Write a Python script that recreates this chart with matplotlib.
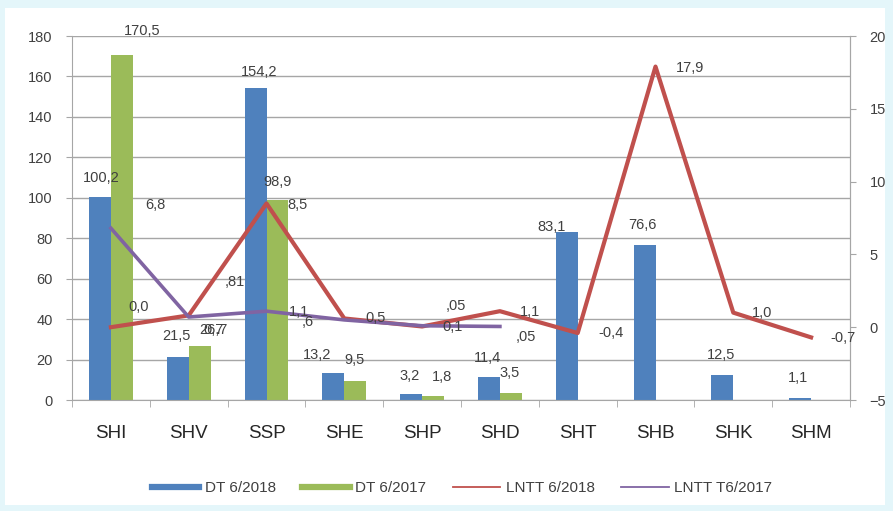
import numpy as np
import matplotlib
matplotlib.use("Agg")
from matplotlib import pyplot as plt
from matplotlib.lines import Line2D
from matplotlib.patches import Rectangle

plt.rcParams["font.family"] = ["Liberation Sans", "DejaVu Sans"]

categories = ["SHI", "SHV", "SSP", "SHE", "SHP", "SHD", "SHT", "SHB", "SHK", "SHM"]
dt_2018 = [100.2, 21.5, 154.2, 13.2, 3.2, 11.4, 83.1, 76.6, 12.5, 1.1]
dt_2017 = [170.5, 26.7, 98.9, 9.5, 1.8, 3.5]
lntt_2018 = [0.0, 0.81, 8.5, 0.6, 0.05, 1.1, -0.4, 17.9, 1.0, -0.7]
lntt_2017 = [6.8, 0.7, 1.1, 0.5, 0.1, 0.05]

lbl_dt_2018 = ["100,2", "21,5", "154,2", "13,2", "3,2", "11,4", "83,1", "76,6", "12,5", "1,1"]
lbl_dt_2017 = ["170,5", "26,7", "98,9", "9,5", "1,8", "3,5"]
lbl_lntt_2018 = ["0,0", ",81", "8,5", ",6", ",05", "1,1", "-0,4", "17,9", "1,0", "-0,7"]
lbl_lntt_2017 = ["6,8", "0,7", "1,1", "0,5", "0,1", ",05"]

blue = "#4f81bd"
green = "#9bbb59"
red = "#c0504d"
purple = "#8064a2"
txt = "#404040"
fs = 10.5

fig = plt.figure(figsize=(8.93, 5.11), dpi=100, facecolor="#e4f6fa")
bg = fig.add_axes([0.006, 0.012, 0.985, 0.972], zorder=-10)
bg.axis("off")
bg.add_patch(Rectangle((0, 0), 1, 1, transform=bg.transAxes, facecolor="white", edgecolor="none"))

ax = fig.add_axes([72 / 893, 1 - 400 / 511, 778 / 893, 364 / 511])
ax.set_facecolor("none")
x = np.arange(len(categories))
w = 0.282

ax.bar(x - w / 2, dt_2018, w, color=blue, zorder=2)
ax.bar(x[:len(dt_2017)] + w / 2, dt_2017, w, color=green, zorder=2)

ax.set_ylim(0, 180)
ax.set_yticks(range(0, 181, 20))
ax.set_xlim(-0.5, len(categories) - 0.5)
ax.grid(axis="y", color="#a6a6a6", lw=1, zorder=0)
ax.set_xticks(x)
ax.set_xticklabels(categories, fontsize=13.5, color="#262626")
ax.set_xticks(np.arange(-0.5, len(categories), 1), minor=True)
ax.tick_params(axis="x", which="major", length=0, pad=18)
ax.tick_params(axis="x", which="minor", length=5, color="#a6a6a6")
ax.tick_params(axis="y", length=4, color="#a6a6a6", labelsize=fs, labelcolor=txt, pad=10)
ax.spines["top"].set_visible(False)
for s in ["left", "right", "bottom"]:
    ax.spines[s].set_color("#a6a6a6")

# label offsets in pixels (dx, dy up)
b18_off = [(1, 19), (-1, 21), (4, 16), (-16, 18), (-2, 18), (-1, 19), (-15, 5), (-2, 20), (-1, 20), (-2, 20)]
for i, (v, l) in enumerate(zip(dt_2018, lbl_dt_2018)):
    ax.annotate(l, (x[i] - w / 2, v), xytext=b18_off[i], textcoords="offset pixels",
                ha="center", va="center", fontsize=fs, color=txt, zorder=5)
b17_off = [(20, 24), (14, 16), (0, 18), (-1, 21), (9, 19), (-1, 20)]
for i, (v, l) in enumerate(zip(dt_2017, lbl_dt_2017)):
    ax.annotate(l, (x[i] + w / 2, v), xytext=b17_off[i], textcoords="offset pixels",
                ha="center", va="center", fontsize=fs, color=txt, zorder=5)

ax2 = ax.twinx()
ax2.set_ylim(-5, 20)
ax2.set_yticks(range(-5, 21, 5))
ax2.tick_params(axis="y", length=4, color="#a6a6a6", labelsize=fs, labelcolor=txt, pad=10)
for s in ["top", "left", "bottom"]:
    ax2.spines[s].set_visible(False)
ax2.spines["right"].set_color("#a6a6a6")

ax2.plot(x, lntt_2018, color=red, lw=3.0, zorder=3)
ax2.plot(x[:len(lntt_2017)], lntt_2017, color=purple, lw=2.6, zorder=3)

r18_off = [(28, 20), (46, 33), (31, -2), (-37, -4), (34, 20), (30, -1), (33, 0), (35, -1), (29, 0), (32, -1)]
for i, (v, l) in enumerate(zip(lntt_2018, lbl_lntt_2018)):
    ax2.annotate(l, (x[i], v), xytext=r18_off[i], textcoords="offset pixels",
                 ha="center", va="center", fontsize=fs, color=txt, zorder=5)
r17_off = [(44, 23), (25, -13), (32, -1), (31, 2), (30, -1), (26, -11)]
for i, (v, l) in enumerate(zip(lntt_2017, lbl_lntt_2017)):
    ax2.annotate(l, (x[i], v), xytext=r17_off[i], textcoords="offset pixels",
                 ha="center", va="center", fontsize=fs, color=txt, zorder=5)

handles = [Line2D([], [], color=blue, lw=4.5), Line2D([], [], color=green, lw=4.5),
           Line2D([], [], color=red, lw=1.3), Line2D([], [], color=purple, lw=1.3)]
fig.legend(handles, ["DT 6/2018", "DT 6/2017", "LNTT 6/2018", "LNTT T6/2017"],
           loc="center", bbox_to_anchor=(462 / 893, 1 - 488 / 511), ncol=4, frameon=False,
           fontsize=11, handlelength=3.1, handletextpad=0.35, columnspacing=1.75,
           labelcolor=txt)

fig.savefig("out.png", dpi=100, facecolor=fig.get_facecolor())
